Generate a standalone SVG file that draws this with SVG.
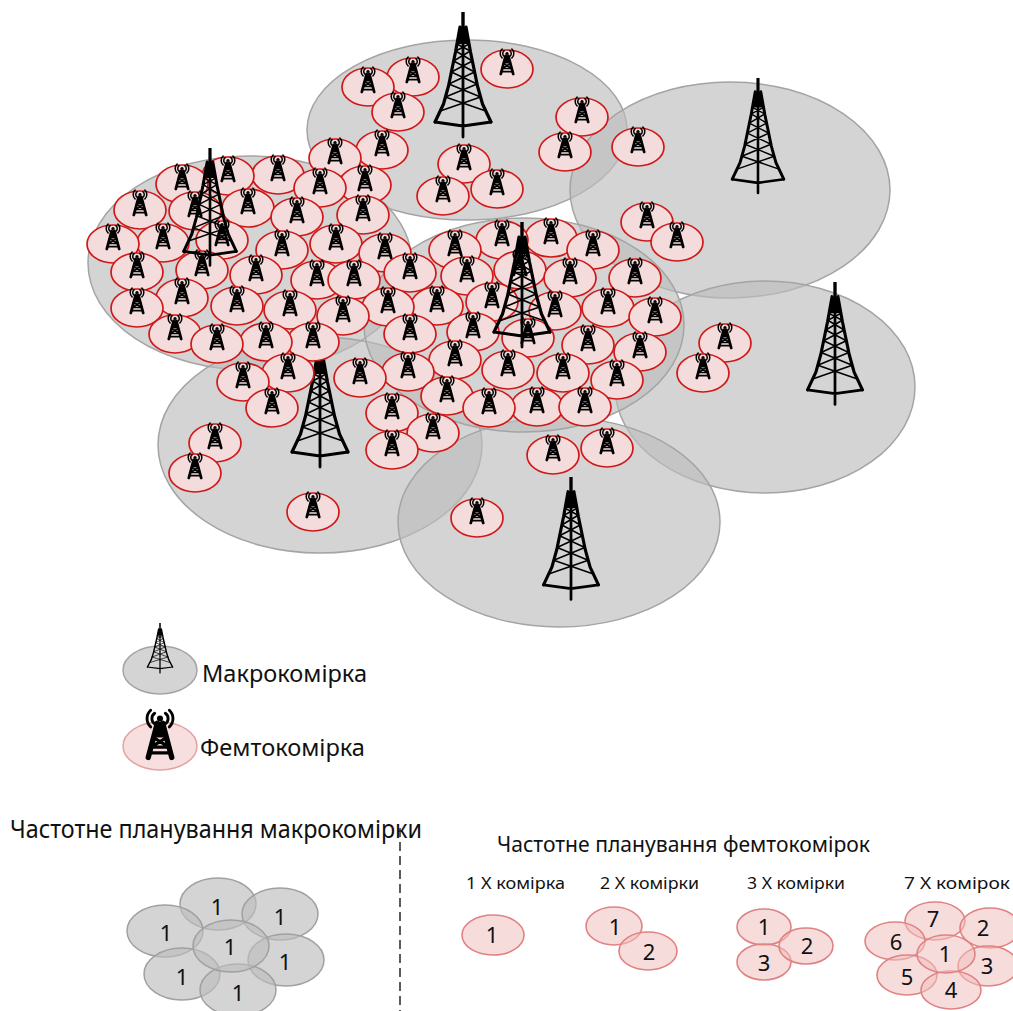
<svg xmlns="http://www.w3.org/2000/svg" width="1013" height="1011" viewBox="0 0 1013 1011">
  <style>
    .macro { fill:#bdbdbd; fill-opacity:0.65; stroke:#a4a4a4; stroke-width:1.5; }
    .plan-macro { fill:#bdbdbd; fill-opacity:0.65; stroke:#a0a0a0; stroke-width:1.5; }
    .plan-femto { fill:#f0c0c0; fill-opacity:0.55; stroke:#e08282; stroke-width:1.6; }
    .lbl { font-family:"Noto Sans","Open Sans",sans-serif; fill:#111; }
    .num { font-family:"Noto Sans","Open Sans",sans-serif; fill:#111; font-size:22px; text-anchor:middle; }
  </style>
  <defs>
    <!-- lattice macro tower, origin at spike tip -->
    <g id="mast" fill="none" stroke="#000" stroke-linecap="round" stroke-linejoin="round">
      <rect x="-1.7" y="0" width="3.4" height="16" fill="#000" stroke="none"/>
      <path d="M-3,15 L3,15 L6.1,32 L-6.1,32 Z" fill="#000" stroke="none"/>
      <path d="M-3,15 L-7.5,40 L-14.5,74 L-19.5,92 L-28,110 M3,15 L7.5,40 L14.5,74 L19.5,92 L28,110" stroke-width="3.2"/>
      <path d="M-28,110 L0,114 L28,110 M0,15 L0,125" stroke-width="2.8"/>
      <path d="M-6.1,32 L7.3,39 M6.1,32 L-7.3,39 M-7.3,39 L9.4,49 M7.3,39 L-9.4,49 M-9.4,49 L11.6,60 M9.4,49 L-11.6,60 M-11.6,60 L14.1,72 M11.6,60 L-14.1,72 M-14.1,72 L17.6,85 M14.1,72 L-17.6,85 M-17.6,85 L22.8,99 M17.6,85 L-22.8,99" stroke-width="1.6"/>
    </g>
    <!-- small femto access point with radio waves, origin at cell centre -->
    <g id="ficon" fill="none" stroke="#000" stroke-linecap="round">
      <circle cx="0" cy="-15.5" r="1.6" fill="#000" stroke="none"/>
      <path d="M-2.8,-18.3 A3.4,3.4 0 0 0 -2.8,-12.7 M2.8,-18.3 A3.4,3.4 0 0 1 2.8,-12.7" stroke-width="1.5"/>
      <path d="M-4.9,-19.9 A6,6 0 0 0 -4.9,-11.1 M4.9,-19.9 A6,6 0 0 1 4.9,-11.1" stroke-width="1.5"/>
      <path d="M-1.4,-13 L-6.2,5 M1.4,-13 L6.2,5" stroke-width="2.8"/>
      <path d="M-1.6,-13.5 L1.6,-13.5 L3.6,-5.5 L-3.6,-5.5 Z" fill="#000" stroke="none"/>
      <path d="M-3.4,-5.5 L4.7,-0.5 M3.4,-5.5 L-4.7,-0.5 M-4.7,-0.5 L4.7,-0.5 M-5.6,2.6 L5.6,2.6" stroke-width="1.7"/>
    </g>
    <g id="femto-cell">
      <ellipse rx="26" ry="19" fill="#f5dcdc" stroke="#d01818" stroke-width="1.7"/>
      <use href="#ficon"/>
    </g>
  </defs>

  <!-- macro coverage areas -->
  <g id="macro-cells">
    <ellipse id="macro-top" class="macro" cx="467" cy="130" rx="160" ry="90"/>
    <ellipse id="macro-right-top" class="macro" cx="730" cy="190" rx="160" ry="108"/>
    <ellipse id="macro-left" class="macro" cx="250" cy="263" rx="162" ry="107"/>
    <ellipse id="macro-right-low" class="macro" cx="765" cy="387" rx="150" ry="106"/>
    <ellipse id="macro-low-left" class="macro" cx="320" cy="445" rx="162" ry="108"/>
    <ellipse id="macro-bottom" class="macro" cx="559" cy="522" rx="161" ry="105"/>
    <ellipse id="macro-centre" class="macro" cx="524" cy="325" rx="160" ry="107"/>
  </g>

  <g id="tower-low-left"><use href="#mast" transform="translate(320,342)"/></g>

  <!-- femto cells -->
  <g id="femto-cells">
    <use id="f1" href="#femto-cell" x="507" y="69"/>
    <use id="f2" href="#femto-cell" x="413" y="77"/>
    <use id="f3" href="#femto-cell" x="368" y="87"/>
    <use id="f4" href="#femto-cell" x="398" y="112"/>
    <use id="f5" href="#femto-cell" x="582" y="117"/>
    <use id="f6" href="#femto-cell" x="638" y="147"/>
    <use id="f7" href="#femto-cell" x="382" y="150"/>
    <use id="f8" href="#femto-cell" x="565" y="152"/>
    <use id="f9" href="#femto-cell" x="335" y="158"/>
    <use id="f10" href="#femto-cell" x="464" y="164"/>
    <use id="f11" href="#femto-cell" x="278" y="175"/>
    <use id="f12" href="#femto-cell" x="228" y="176"/>
    <use id="f13" href="#femto-cell" x="182" y="184"/>
    <use id="f14" href="#femto-cell" x="365" y="185"/>
    <use id="f15" href="#femto-cell" x="320" y="188"/>
    <use id="f16" href="#femto-cell" x="497" y="189"/>
    <use id="f17" href="#femto-cell" x="443" y="196"/>
    <use id="f18" href="#femto-cell" x="248" y="208"/>
    <use id="f19" href="#femto-cell" x="140" y="210"/>
    <use id="f20" href="#femto-cell" x="195" y="211"/>
    <use id="f21" href="#femto-cell" x="363" y="215"/>
    <use id="f22" href="#femto-cell" x="297" y="217"/>
    <use id="f23" href="#femto-cell" x="647" y="222"/>
    <use id="f24" href="#femto-cell" x="551" y="238"/>
    <use id="f25" href="#femto-cell" x="222" y="240"/>
    <use id="f26" href="#femto-cell" x="502" y="240"/>
    <use id="f27" href="#femto-cell" x="677" y="242"/>
    <use id="f28" href="#femto-cell" x="163" y="243"/>
    <use id="f29" href="#femto-cell" x="113" y="244"/>
    <use id="f30" href="#femto-cell" x="336" y="244"/>
    <use id="f31" href="#femto-cell" x="455" y="250"/>
    <use id="f32" href="#femto-cell" x="593" y="250"/>
    <use id="f33" href="#femto-cell" x="282" y="250"/>
    <use id="f34" href="#femto-cell" x="385" y="253"/>
    <use id="f35" href="#femto-cell" x="202" y="270"/>
    <use id="f36" href="#femto-cell" x="520" y="270"/>
    <use id="f37" href="#femto-cell" x="137" y="272"/>
    <use id="f38" href="#femto-cell" x="410" y="273"/>
    <use id="f39" href="#femto-cell" x="256" y="275"/>
    <use id="f40" href="#femto-cell" x="467" y="276"/>
    <use id="f41" href="#femto-cell" x="570" y="278"/>
    <use id="f42" href="#femto-cell" x="635" y="278"/>
    <use id="f43" href="#femto-cell" x="317" y="280"/>
    <use id="f44" href="#femto-cell" x="354" y="280"/>
    <use id="f45" href="#femto-cell" x="182" y="298"/>
    <use id="f46" href="#femto-cell" x="492" y="302"/>
    <use id="f47" href="#femto-cell" x="237" y="306"/>
    <use id="f48" href="#femto-cell" x="437" y="306"/>
    <use id="f49" href="#femto-cell" x="388" y="307"/>
    <use id="f50" href="#femto-cell" x="137" y="308"/>
    <use id="f51" href="#femto-cell" x="608" y="308"/>
    <use id="f52" href="#femto-cell" x="290" y="310"/>
    <use id="f53" href="#femto-cell" x="555" y="311"/>
    <use id="f54" href="#femto-cell" x="343" y="316"/>
    <use id="f55" href="#femto-cell" x="655" y="317"/>
    <use id="f56" href="#femto-cell" x="473" y="332"/>
    <use id="f57" href="#femto-cell" x="175" y="334"/>
    <use id="f58" href="#femto-cell" x="410" y="334"/>
    <use id="f59" href="#femto-cell" x="528" y="338"/>
    <use id="f60" href="#femto-cell" x="313" y="342"/>
    <use id="f61" href="#femto-cell" x="266" y="342"/>
    <use id="f62" href="#femto-cell" x="725" y="343"/>
    <use id="f63" href="#femto-cell" x="217" y="344"/>
    <use id="f64" href="#femto-cell" x="588" y="345"/>
    <use id="f65" href="#femto-cell" x="640" y="352"/>
    <use id="f66" href="#femto-cell" x="455" y="360"/>
    <use id="f67" href="#femto-cell" x="508" y="370"/>
    <use id="f68" href="#femto-cell" x="408" y="372"/>
    <use id="f69" href="#femto-cell" x="288" y="373"/>
    <use id="f70" href="#femto-cell" x="563" y="373"/>
    <use id="f71" href="#femto-cell" x="703" y="373"/>
    <use id="f72" href="#femto-cell" x="360" y="378"/>
    <use id="f73" href="#femto-cell" x="617" y="380"/>
    <use id="f74" href="#femto-cell" x="243" y="382"/>
    <use id="f75" href="#femto-cell" x="447" y="396"/>
    <use id="f76" href="#femto-cell" x="537" y="407"/>
    <use id="f77" href="#femto-cell" x="585" y="407"/>
    <use id="f78" href="#femto-cell" x="489" y="408"/>
    <use id="f79" href="#femto-cell" x="272" y="408"/>
    <use id="f80" href="#femto-cell" x="392" y="413"/>
    <use id="f81" href="#femto-cell" x="433" y="433"/>
    <use id="f82" href="#femto-cell" x="215" y="443"/>
    <use id="f83" href="#femto-cell" x="607" y="448"/>
    <use id="f84" href="#femto-cell" x="392" y="450"/>
    <use id="f85" href="#femto-cell" x="553" y="455"/>
    <use id="f86" href="#femto-cell" x="195" y="473"/>
    <use id="f87" href="#femto-cell" x="313" y="512"/>
    <use id="f88" href="#femto-cell" x="477" y="518"/>
  </g>

  <!-- macro base stations -->
  <g id="towers">
    <use id="tower-top" href="#mast" transform="translate(463,12)"/>
    <use id="tower-right-top" href="#mast" transform="translate(758,78) scale(0.92)"/>
    <use id="tower-left" href="#mast" transform="translate(210,148) scale(0.94)"/>
    <use id="tower-centre" href="#mast" transform="translate(522,222)"/>
    <use id="tower-right-low" href="#mast" transform="translate(835,282) scale(0.98)"/>
    <use id="tower-bottom" href="#mast" transform="translate(571,477) scale(0.98)"/>
  </g>

  <!-- legend -->
  <g id="legend-macro">
    <ellipse class="macro" cx="160" cy="670" rx="37" ry="24"/>
    <use href="#mast" transform="translate(160,623) scale(0.45,0.4)"/>
    <text class="lbl" x="202" y="682" font-size="24" textLength="165" lengthAdjust="spacingAndGlyphs">Макрокомірка</text>
  </g>
  <g id="legend-femto">
    <ellipse cx="160" cy="746" rx="37" ry="24" fill="#f7dfdf" stroke="#e6a2a2" stroke-width="1.5"/>
    <use href="#ficon" transform="translate(160,748) scale(1.9)"/>
    <text class="lbl" x="200" y="756" font-size="24" textLength="165" lengthAdjust="spacingAndGlyphs">Фемтокомірка</text>
  </g>

  <!-- macro frequency planning -->
  <g id="plan-macro">
    <text class="lbl" x="10" y="838" font-size="25" textLength="412" lengthAdjust="spacingAndGlyphs">Частотне планування макрокомірки</text>
    <ellipse class="plan-macro" cx="218" cy="904" rx="38" ry="26"/>
    <ellipse class="plan-macro" cx="280" cy="914" rx="38" ry="26"/>
    <ellipse class="plan-macro" cx="165" cy="931" rx="38" ry="26"/>
    <ellipse class="plan-macro" cx="286" cy="960" rx="38" ry="26"/>
    <ellipse class="plan-macro" cx="182" cy="974" rx="38" ry="26"/>
    <ellipse class="plan-macro" cx="238" cy="990" rx="38" ry="26"/>
    <ellipse class="plan-macro" cx="231" cy="946" rx="38" ry="26"/>
    <text class="num" x="217" y="915">1</text>
    <text class="num" x="280" y="925">1</text>
    <text class="num" x="166" y="941">1</text>
    <text class="num" x="230" y="955">1</text>
    <text class="num" x="285" y="970">1</text>
    <text class="num" x="182" y="985">1</text>
    <text class="num" x="238" y="1001">1</text>
  </g>

  <g id="divider">
    <line x1="400" y1="828" x2="400" y2="1011" stroke="#333" stroke-width="1.6" stroke-dasharray="9 5"/>
  </g>

  <!-- femto frequency planning -->
  <g id="plan-femto">
    <text class="lbl" x="497" y="852" font-size="22" textLength="373" lengthAdjust="spacingAndGlyphs">Частотне планування фемтокомірок</text>
    <text class="lbl" x="466" y="889" font-size="17" textLength="99" lengthAdjust="spacingAndGlyphs">1 X комірка</text>
    <text class="lbl" x="600" y="889" font-size="17" textLength="99" lengthAdjust="spacingAndGlyphs">2 X комірки</text>
    <text class="lbl" x="747" y="889" font-size="17" textLength="98" lengthAdjust="spacingAndGlyphs">3 X комірки</text>
    <text class="lbl" x="904" y="889" font-size="17" textLength="106" lengthAdjust="spacingAndGlyphs">7 X комірок</text>
  </g>
  <g id="plan-femto-1">
    <ellipse class="plan-femto" cx="493" cy="935" rx="31" ry="20"/>
    <text class="num" x="492" y="943">1</text>
  </g>
  <g id="plan-femto-2">
    <ellipse class="plan-femto" cx="614" cy="926" rx="28" ry="19"/>
    <ellipse class="plan-femto" cx="648" cy="951" rx="29" ry="19"/>
    <text class="num" x="615" y="935">1</text>
    <text class="num" x="649" y="960">2</text>
  </g>
  <g id="plan-femto-3">
    <ellipse class="plan-femto" cx="764" cy="927" rx="27" ry="18"/>
    <ellipse class="plan-femto" cx="764" cy="962" rx="27" ry="18"/>
    <ellipse class="plan-femto" cx="806" cy="946" rx="27" ry="18"/>
    <text class="num" x="764" y="935">1</text>
    <text class="num" x="807" y="954">2</text>
    <text class="num" x="764" y="971">3</text>
  </g>
  <g id="plan-femto-7">
    <ellipse class="plan-femto" cx="935" cy="921" rx="30" ry="19"/>
    <ellipse class="plan-femto" cx="990" cy="928" rx="30" ry="20"/>
    <ellipse class="plan-femto" cx="895" cy="941" rx="30" ry="19"/>
    <ellipse class="plan-femto" cx="988" cy="966" rx="30" ry="20"/>
    <ellipse class="plan-femto" cx="907" cy="975" rx="30" ry="20"/>
    <ellipse class="plan-femto" cx="951" cy="990" rx="30" ry="19"/>
    <ellipse class="plan-femto" cx="946" cy="954" rx="29" ry="19"/>
    <text class="num" x="933" y="927">7</text>
    <text class="num" x="983" y="936">2</text>
    <text class="num" x="896" y="950">6</text>
    <text class="num" x="945" y="962">1</text>
    <text class="num" x="987" y="974">3</text>
    <text class="num" x="907" y="985">5</text>
    <text class="num" x="951" y="998">4</text>
  </g>
</svg>
